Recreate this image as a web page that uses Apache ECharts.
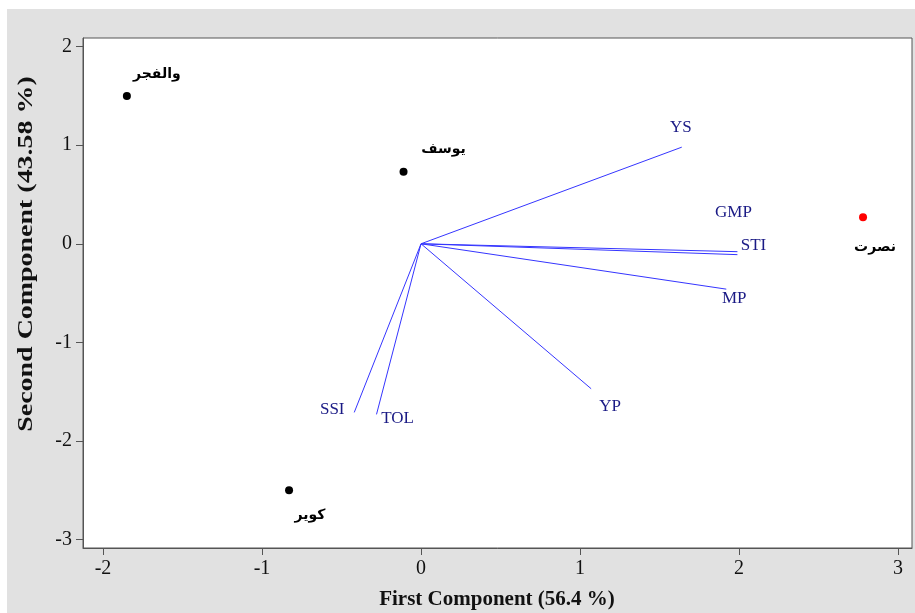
<!DOCTYPE html>
<html>
<head>
<meta charset="utf-8">
<title>Biplot</title>
<script src="https://cdn.jsdelivr.net/npm/echarts@6.0.0/dist/echarts.min.js"></script>
<style>
  html, body { margin: 0; padding: 0; background: #fff; }
  #main { position: absolute; left: 7px; top: 9px; width: 908px; height: 604px; }
</style>
</head>
<body>
<div id="main"></div>
<script>
// genotypes (scores)
const genoNames = ["والفجر", "یوسف", "کویر", "نصرت"];
const genoX = [-1.85, -0.11, -0.83, 2.78];
const genoY = [1.50, 0.73, -2.50, 0.27];

// traits (loadings)
const traitNames = ["YS", "GMP", "STI", "MP", "YP", "SSI", "TOL"];
const traitX = [1.64, 1.99, 1.99, 1.92, 1.07, -0.42, -0.28];
const traitY = [0.98, -0.08, -0.11, -0.46, -1.47, -1.71, -1.73];

const xTicks = [-2, -1, 0, 1, 2, 3];
const yTicks = [-3, -2, -1, 0, 1, 2];

// label placement (pixels)
const traitLabelOffset = {
  YS: [-1, -20], GMP: [-4, -39], STI: [16, -9], MP: [8, 9],
  YP: [19, 18], SSI: [-22, -3], TOL: [21, 4]
};
const genoLabelOffset = {
  "والفجر": [30, -22], "یوسف": [40, -22], "کویر": [21, 25], "نصرت": [12, 30]
};
const genoColor = { "نصرت": "#ff0000" };

const serif = "'Liberation Serif', 'Times New Roman', serif";
const axisColor = "#555";

let chart = echarts.init(document.getElementById("main"));

// one line per trait vector, from origin
let vectorSeries = traitNames.map(function (n, i) {
  return {
    type: "line",
    name: n,
    data: [[0, 0], [traitX[i], traitY[i]]],
    symbol: "none",
    silent: true,
    lineStyle: { color: "#3535ff", width: 1 },
    z: 2
  };
});

let option = {
  backgroundColor: "#e1e1e1",
  animation: false,
  grid: {
    left: 76, top: 29, right: 3, bottom: 65,
    show: true,
    backgroundColor: "#fff",
    borderColor: axisColor,
    borderWidth: 1
  },
  xAxis: {
    type: "value",
    min: -2.126,
    max: 3.088,
    axisLine: { show: true, onZero: false, lineStyle: { color: axisColor } },
    axisTick: { show: true, length: 7, customValues: xTicks, lineStyle: { color: axisColor } },
    axisLabel: {
      customValues: xTicks,
      margin: 11,
      color: "#111",
      fontFamily: serif,
      fontSize: 20
    },
    splitLine: { show: false }
  },
  yAxis: {
    type: "value",
    min: -3.085,
    max: 2.087,
    axisLine: { show: true, onZero: false, lineStyle: { color: axisColor } },
    axisTick: { show: true, length: 7, customValues: yTicks, lineStyle: { color: axisColor } },
    axisLabel: {
      customValues: yTicks,
      margin: 11,
      color: "#111",
      fontFamily: serif,
      fontSize: 20
    },
    splitLine: { show: false }
  },
  graphic: [
    {
      type: "text",
      x: 490, y: 591,
      style: {
        text: "First Component (56.4 %)",
        font: "bold 21px " + serif,
        fill: "#111",
        align: "center",
        verticalAlign: "middle"
      }
    },
    {
      type: "text",
      x: 19, y: 245,
      rotation: Math.PI / 2,
      scaleX: 1.27,
      style: {
        text: "Second Component (43.58 %)",
        font: "bold 22px " + serif,
        fill: "#111",
        align: "center",
        verticalAlign: "middle"
      }
    }
  ],
  series: vectorSeries.concat([
    {
      type: "scatter",
      name: "traitLabels",
      silent: true,
      symbolSize: 0,
      itemStyle: { opacity: 1 },
      data: traitNames.map(function (n, i) {
        return {
          name: n,
          value: [traitX[i], traitY[i]],
          label: { offset: traitLabelOffset[n] }
        };
      }),
      label: {
        show: true,
        position: "inside",
        formatter: "{b}",
        color: "#1a1a85",
        fontFamily: serif,
        fontSize: 17
      },
      z: 3
    },
    {
      type: "scatter",
      name: "genotypes",
      symbol: "circle",
      symbolSize: 8,
      data: genoNames.map(function (n, i) {
        return {
          name: n,
          value: [genoX[i], genoY[i]],
          itemStyle: { color: genoColor[n] || "#000", opacity: 1 },
          label: { offset: genoLabelOffset[n] }
        };
      }),
      label: {
        show: true,
        position: "inside",
        formatter: "{b}",
        color: "#000",
        fontFamily: "'DejaVu Sans', 'Noto Sans', sans-serif",
        fontWeight: "bold",
        fontSize: 14
      },
      z: 4
    }
  ])
};

chart.setOption(option);
window.addEventListener("resize", function () {
  chart.resize();
});
</script>
</body>
</html>
